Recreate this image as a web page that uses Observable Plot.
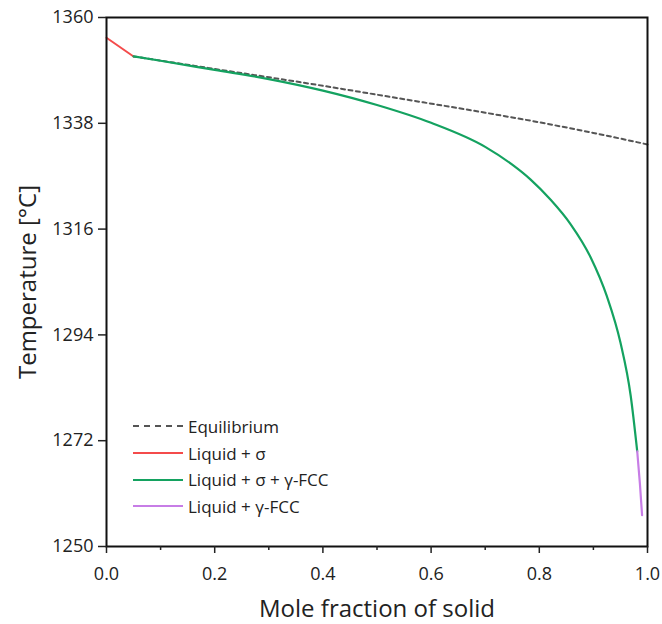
<!DOCTYPE html>
<html>
<head>
<meta charset="utf-8">
<script src="https://cdn.jsdelivr.net/npm/d3@7"></script>
<script src="https://cdn.jsdelivr.net/npm/@observablehq/plot@0.6"></script>
<style>
  body { margin: 0; background: #fff; }
  #wrap { position: relative; width: 662px; height: 624px; font-family: "Open Sans", sans-serif; }
  #legend { position: absolute; left: 133px; top: 413px; font-size: 17px; color: #222; }
  .row { display: flex; align-items: center; height: 26.7px; }
  .sw { width: 50px; height: 0; margin-right: 5px; }
</style>
</head>
<body>
<div id="wrap">
  <div id="chart"></div>
  <div id="legend"></div>
</div>
<script>
// Equilibrium (dashed)
const eqFrac = [0.05, 0.2, 0.4, 0.54, 0.7, 0.8, 0.9, 1.0];
const eqTemp = [1351.9, 1349.3, 1345.8, 1343.2, 1340.2, 1338.2, 1336.0, 1333.6];
// Liquid + σ
const sigFrac = [0.0, 0.05];
const sigTemp = [1355.8, 1351.9];
// Liquid + σ + γ-FCC
const sgFrac = [0.05, 0.1, 0.2, 0.3, 0.4, 0.5, 0.6, 0.7, 0.75, 0.784, 0.821, 0.858, 0.895, 0.925, 0.95, 0.969, 0.981];
const sgTemp = [1351.9, 1351.0, 1349.1, 1347.2, 1344.8, 1341.8, 1338.1, 1333.1, 1329.4, 1326.3, 1322.1, 1317.0, 1310.1, 1302.0, 1292.4, 1281.3, 1269.8];
// Liquid + γ-FCC
const gFrac = [0.981, 0.986, 0.99];
const gTemp = [1269.8, 1263.0, 1256.5];

const seriesNames = ["Equilibrium", "Liquid + σ", "Liquid + σ + γ-FCC", "Liquid + γ-FCC"];
const seriesColors = ["#555555", "#f44b4b", "#14a260", "#c77de6"];
const xTicks = [0, 0.2, 0.4, 0.6, 0.8, 1.0];
const xMinorTicks = [0.1, 0.3, 0.5, 0.7, 0.9];
const yTicks = [1250, 1272, 1294, 1316, 1338, 1360];

const toRows = (fr, t) => fr.map((f, i) => ({f, t: t[i]}));
const eq = toRows(eqFrac, eqTemp);
const sig = toRows(sigFrac, sigTemp);
const sg = toRows(sgFrac, sgTemp);
const g = toRows(gFrac, gTemp);

const plot = Plot.plot({
  width: 662,
  height: 624,
  marginLeft: 106,
  marginRight: 15,
  marginTop: 17,
  marginBottom: 78,
  style: {fontFamily: "Open Sans, sans-serif", fontSize: "18px", color: "#222", background: "#fff"},
  x: {domain: [0, 1]},
  y: {domain: [1250, 1360]},
  marks: [
    Plot.line(eq, {x: "f", y: "t", stroke: seriesColors[0], strokeWidth: 2, strokeDasharray: "4,3.5", curve: "monotone-x"}),
    Plot.line(sig, {x: "f", y: "t", stroke: seriesColors[1], strokeWidth: 2}),
    Plot.line(sg, {x: "f", y: "t", stroke: seriesColors[2], strokeWidth: 2.2, curve: "monotone-x"}),
    Plot.line(g, {x: "f", y: "t", stroke: seriesColors[3], strokeWidth: 2.2}),
    Plot.frame({stroke: "#111", strokeWidth: 2}),
    Plot.axisX({ticks: xTicks, tickFormat: d3.format(".1f"), tickSize: 7, tickPadding: 14, strokeWidth: 1.5, fontSize: 18, label: null}),
    Plot.axisX({ticks: xMinorTicks, tickSize: 4, strokeWidth: 1.5, text: null, label: null}),
    Plot.axisX({ticks: [], label: "Mole fraction of solid", labelAnchor: "center", labelArrow: "none", labelOffset: 70, fontSize: 24}),
    Plot.axisY({ticks: yTicks, tickFormat: d3.format("d"), tickSize: 8, tickPadding: 5, strokeWidth: 1.5, fontSize: 18, label: null}),
    Plot.axisY({ticks: [], label: "Temperature [°C]", labelAnchor: "center", labelArrow: "none", labelOffset: 88, fontSize: 24})
  ]
});
document.getElementById("chart").append(plot);

const legend = document.getElementById("legend");
seriesNames.forEach((name, i) => {
  const row = document.createElement("div");
  row.className = "row";
  const sw = document.createElement("div");
  sw.className = "sw";
  sw.style.borderTop = (i === 0 ? "2px dashed " : "2.5px solid ") + seriesColors[i];
  const lab = document.createElement("span");
  lab.textContent = name;
  row.append(sw, lab);
  legend.append(row);
});
</script>
</body>
</html>
